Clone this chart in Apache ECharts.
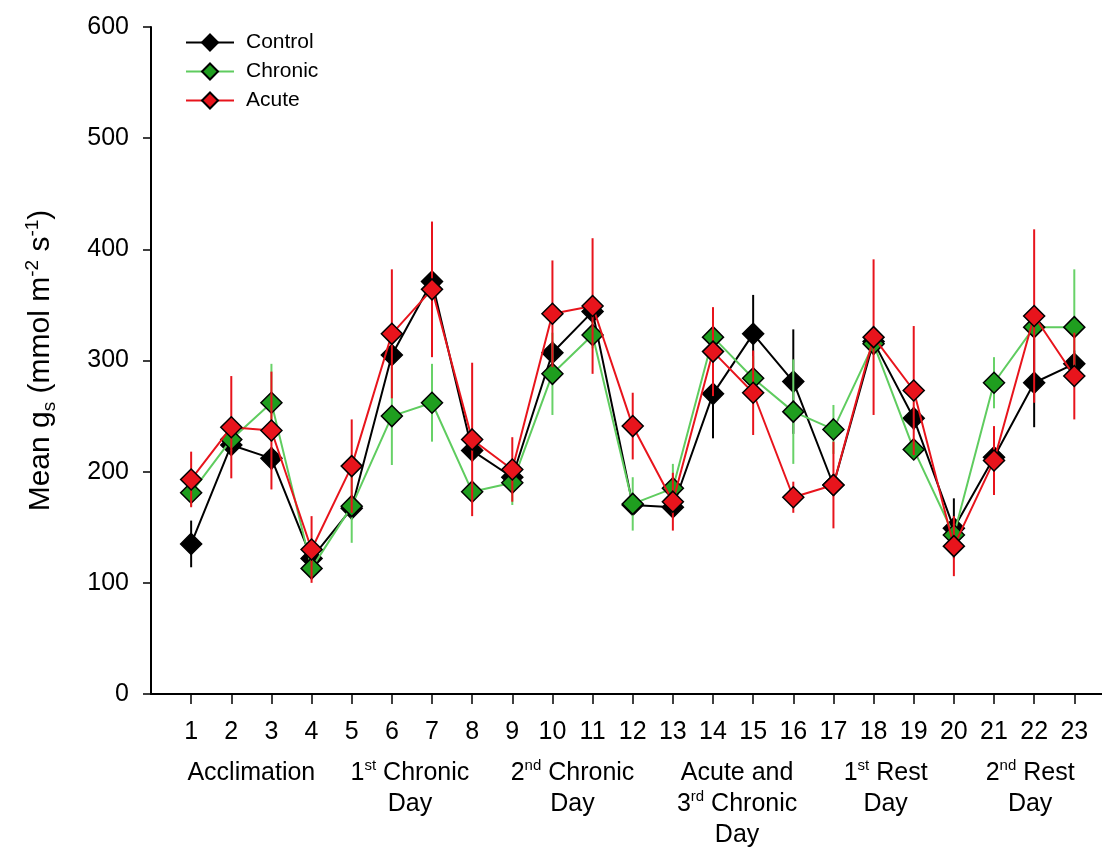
<!DOCTYPE html>
<html>
<head>
<meta charset="utf-8">
<script src="https://cdn.jsdelivr.net/npm/echarts@6/dist/echarts.min.js"></script>
<style>
html,body{margin:0;padding:0;background:#fff;}
#chart{width:1102px;height:849px;}
</style>
</head>
<body>
<div id="chart"></div>
<script>
// ---- data ----
var days = [1,2,3,4,5,6,7,8,9,10,11,12,13,14,15,16,17,18,19,20,21,22,23];
var controlMean = [135,224,212,122,167,305,371,219,195,307,344,170,168,270,324,281,188,317,248,149,213,280,297];
var controlErr  = [21,8,10,8,10,10,10,10,8,10,10,8,8,40,35,47,10,10,10,27,10,40,12];
var chronicMean = [181,229,262,113,169,250,262,182,190,288,323,171,185,321,284,254,238,315,220,143,280,330,330];
var chronicErr  = [12,10,35,10,33,44,35,10,20,37,12,24,22,10,20,47,22,10,6,10,23,10,52];
var acuteMean   = [193,240,237,130,205,324,364,229,202,342,349,241,173,308,271,177,188,321,273,133,210,340,286];
var acuteErr    = [25,46,53,30,42,58,61,69,29,48,61,30,26,40,38,14,39,70,58,27,31,78,39];
var seriesNames = ['Control','Chronic','Acute'];
var yTicks = [0,100,200,300,400,500,600];
var groupLabels = [
  'Acclimation',
  '1{sup|st} Chronic\nDay',
  '2{sup|nd} Chronic\nDay',
  'Acute and\n3{sup|rd} Chronic\nDay',
  '1{sup|st} Rest\nDay',
  '2{sup|nd} Rest\nDay'
];
var groupCenters = [2.5, 6.45, 10.5, 14.6, 18.3, 21.9];

var FONT = 'Liberation Sans, Arial, sans-serif';
var styles = [
  {line:'#000000', fill:'#000000', err:'#000000'},
  {line:'#5fcc5f', fill:'#1f9e1f', err:'#68d268'},
  {line:'#e8141c', fill:'#e8141c', err:'#e8141c'}
];

function lineData(means){ return days.map(function(d,i){ return [d, means[i]]; }); }
function errData(means, errs){ return days.map(function(d,i){ return [d, means[i]-errs[i], means[i]+errs[i]]; }); }

function errSeries(name, means, errs, color, z){
  return {
    type:'custom', name: name + ' err', z: z, silent:true,
    data: errData(means, errs),
    encode:{x:0, y:[1,2]},
    renderItem: function(params, api){
      var lo = api.coord([api.value(0), api.value(1)]);
      var hi = api.coord([api.value(0), api.value(2)]);
      return {type:'line', shape:{x1:lo[0], y1:lo[1], x2:hi[0], y2:hi[1]},
              style:{stroke:color, lineWidth:2}};
    }
  };
}
function lineSeries(name, means, st, z){
  return {
    type:'line', name:name, z:z, data: lineData(means),
    symbol:'diamond', symbolSize:[21,21],
    lineStyle:{color:st.line, width:2},
    itemStyle:{color:st.fill, borderColor:'#000', borderWidth:1.5},
    emphasis:{disabled:true}, animation:false
  };
}

var chart = echarts.init(document.getElementById('chart'));
var option = {
  animation:false,
  backgroundColor:'#ffffff',
  textStyle:{fontFamily:FONT},
  grid:{left:151, top:27, bottom:155, right:0, containLabel:false},
  legend:{
    orient:'vertical', left:185, top:32, padding:0, itemWidth:48, itemHeight:20, itemGap:8,
    data: seriesNames,
    textStyle:{fontSize:21, lineHeight:20, color:'#000', fontFamily:FONT, padding:[0,0,0,7]}
  },
  xAxis:{
    type:'value', min:0, max:23.69,
    axisLine:{lineStyle:{color:'#000', width:2}},
    axisTick:{show:true, length:10, lineStyle:{color:'#000', width:1.5}, customValues: days},
    axisLabel:{fontSize:25, color:'#000', margin:26, customValues: days, fontFamily:FONT},
    splitLine:{show:false}
  },
  yAxis:{
    type:'value', min:0, max:600, interval:100,
    name:'Mean g{sub|s} (mmol m{sup|-2} s{sup|-1})',
    nameLocation:'middle', nameGap:92, nameRotate:90,
    nameTextStyle:{fontSize:30, color:'#000', lineHeight:36, fontFamily:FONT,
      rich:{
        sub:{fontSize:19, lineHeight:19, verticalAlign:'bottom', color:'#000', fontFamily:FONT},
        sup:{fontSize:19, lineHeight:19, verticalAlign:'top', color:'#000', fontFamily:FONT}
      }},
    axisLine:{show:true, lineStyle:{color:'#000', width:2}},
    axisTick:{show:true, length:8, lineStyle:{color:'#000', width:1.5}},
    axisLabel:{fontSize:25, color:'#000', margin:22, fontFamily:FONT, customValues: yTicks},
    splitLine:{show:false}
  },
  series:[
    errSeries('Control', controlMean, controlErr, styles[0].err, 2),
    lineSeries('Control', controlMean, styles[0], 3),
    errSeries('Chronic', chronicMean, chronicErr, styles[1].err, 4),
    lineSeries('Chronic', chronicMean, styles[1], 5),
    errSeries('Acute', acuteMean, acuteErr, styles[2].err, 6),
    lineSeries('Acute', acuteMean, styles[2], 7)
  ]
};
chart.setOption(option);

var graphics = groupLabels.map(function(t, i){
  var px = chart.convertToPixel({xAxisIndex:0}, groupCenters[i]);
  return {
    type:'text', x: px, y: 758, z: 100,
    style:{
      text: t, align:'center', verticalAlign:'top',
      fontSize:25, lineHeight:31, fill:'#000', fontFamily:FONT,
      rich:{
        sup:{fontSize:15, lineHeight:15, verticalAlign:'top', fill:'#000', fontFamily:FONT}
      }
    }
  };
});
chart.setOption({graphic: graphics});
</script>
</body>
</html>
